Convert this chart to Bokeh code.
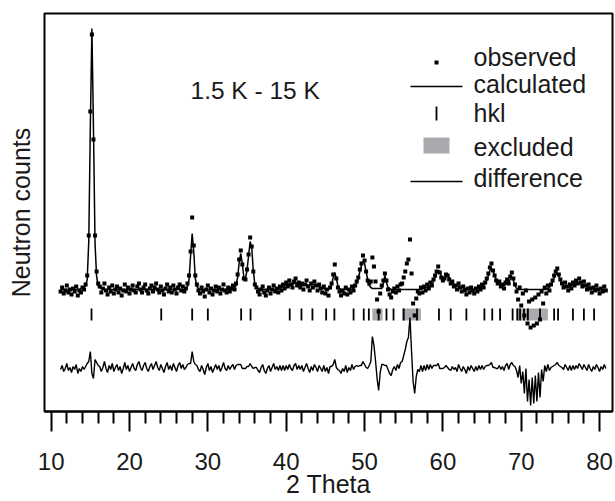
import numpy as np
from bokeh.plotting import figure
from bokeh.models import Range1d, FixedTicker
from bokeh.core.properties import value
from bokeh.embed import file_html
from bokeh.resources import INLINE

# ---------------- data ----------------
theta_start = 11.2
theta_step = 0.2

# observed counts (arbitrary units), one row = 10 points = 2 degrees
observed = [
    120, 124, 118, 121, 126, 119, 122, 117, 123, 120,   # 11.2 - 13.0
    125, 116, 121, 119, 124, 122, 127, 136, 176, 300,   # 13.2 - 15.0
    377, 272, 176, 140, 128, 125, 119, 123, 128, 121,   # 15.2 - 17.0
    117, 124, 120, 126, 118, 122, 125, 119, 123, 116,   # 17.2 - 19.0
    121, 127, 120, 124, 118, 122, 126, 121, 119, 125,   # 19.2 - 21.0
    128, 122, 119, 124, 127, 121, 118, 123, 126, 120,   # 21.2 - 23.0
    124, 128, 122, 119, 125, 121, 117, 123, 127, 120,   # 23.2 - 25.0
    124, 119, 126, 122, 118, 124, 127, 121, 125, 120,   # 25.2 - 27.0
    123, 128, 136, 160, 194, 166, 136, 127, 121, 118,   # 27.2 - 29.0
    124, 120, 115, 122, 126, 119, 123, 117, 121, 125,   # 29.2 - 31.0
    120, 124, 118, 122, 127, 121, 119, 124, 120, 123,   # 31.2 - 33.0
    126, 122, 128, 137, 152, 161, 147, 133, 132, 142,   # 33.2 - 35.0
    157, 174, 165, 140, 127, 124, 120, 117, 122, 125,   # 35.2 - 37.0
    119, 116, 121, 124, 118, 122, 126, 120, 123, 119,   # 37.2 - 39.0
    125, 121, 127, 123, 129, 125, 131, 127, 124, 130,   # 39.2 - 41.0
    133, 126, 129, 124, 128, 122, 127, 131, 125, 121,   # 41.2 - 43.0
    128, 124, 130, 126, 121, 127, 123, 119, 125, 118,   # 43.2 - 45.0
    122, 116, 124, 128, 137, 147, 133, 124, 120, 116,   # 45.2 - 47.0
    121, 118, 124, 117, 122, 119, 125, 121, 126, 130,   # 47.2 - 49.0
    134, 142, 148, 156, 151, 140, 131, 128, 130, 154,   # 49.2 - 51.0
    145, 130, 112, 100, 118, 126, 131, 138, 131, 122,   # 51.2 - 53.0
    117, 114, 120, 123, 119, 125, 121, 127, 128, 134,   # 53.2 - 55.0
    140, 148, 152, 172, 138, 108, 96, 113, 120, 118,    # 55.2 - 57.0
    124, 119, 125, 121, 127, 123, 129, 126, 132, 136,   # 57.2 - 59.0
    140, 145, 139, 134, 131, 133, 137, 136, 132, 128,   # 59.2 - 61.0
    130, 125, 126, 122, 128, 124, 120, 125, 121, 117,   # 61.2 - 63.0
    123, 119, 124, 121, 118, 123, 120, 125, 122, 127,   # 63.2 - 65.0
    124, 129, 133, 138, 144, 148, 141, 136, 131, 128,   # 65.2 - 67.0
    130, 125, 127, 123, 129, 132, 128, 135, 139, 133,   # 67.2 - 69.0
    127, 120, 112, 124, 106, 118, 96, 121, 88, 110,     # 69.2 - 71.0
    84, 112, 86, 114, 88, 117, 92, 120, 108, 124,       # 71.2 - 73.0
    118, 126, 121, 127, 131, 136, 140, 143, 137, 132,   # 73.2 - 75.0
    128, 124, 129, 125, 121, 127, 123, 129, 126, 131,   # 75.2 - 77.0
    128, 133, 129, 125, 130, 126, 122, 127, 123, 119,   # 77.2 - 79.0
    124, 121, 126, 122, 118, 123, 120, 125, 121,        # 79.2 - 80.8
]

# calculated profile, same grid
calculated = [
    122, 122, 122, 122, 122, 122, 122, 122, 122, 122,   # 11.2 - 13.0
    122, 122, 122, 123, 123, 124, 126, 132, 170, 284,   # 13.2 - 15.0
    383, 283, 168, 135, 126, 124, 123, 123, 122, 122,   # 15.2 - 17.0
    122, 122, 122, 122, 122, 122, 122, 122, 122, 122,   # 17.2 - 19.0
    122, 122, 122, 122, 122, 122, 122, 122, 122, 122,   # 19.2 - 21.0
    122, 122, 122, 122, 122, 122, 122, 122, 122, 122,   # 21.2 - 23.0
    122, 122, 122, 122, 122, 122, 122, 122, 122, 122,   # 23.2 - 25.0
    122, 122, 122, 122, 122, 122, 122, 122, 122, 122,   # 25.2 - 27.0
    123, 125, 132, 156, 178, 160, 133, 125, 123, 122,   # 27.2 - 29.0
    122, 122, 122, 122, 122, 122, 122, 122, 122, 122,   # 29.2 - 31.0
    122, 122, 122, 122, 122, 122, 122, 122, 122, 122,   # 31.2 - 33.0
    123, 124, 126, 134, 149, 158, 148, 134, 133, 141,   # 33.2 - 35.0
    156, 170, 164, 141, 127, 124, 123, 122, 122, 122,   # 35.2 - 37.0
    122, 122, 122, 122, 122, 122, 122, 122, 122, 122,   # 37.2 - 39.0
    123, 124, 125, 126, 127, 127, 128, 128, 127, 128,   # 39.2 - 41.0
    129, 128, 127, 126, 126, 126, 127, 127, 126, 126,   # 41.2 - 43.0
    127, 127, 127, 126, 125, 125, 124, 123, 123, 122,   # 43.2 - 45.0
    122, 122, 123, 127, 134, 139, 133, 126, 123, 122,   # 45.2 - 47.0
    122, 122, 122, 122, 122, 122, 122, 123, 125, 128,   # 47.2 - 49.0
    133, 140, 146, 150, 148, 140, 132, 126, 124, 123,   # 49.2 - 51.0
    123, 123, 123, 123, 123, 123, 128, 136, 129, 124,   # 51.2 - 53.0
    123, 122, 122, 122, 122, 122, 122, 122, 122, 122,   # 53.2 - 55.0
    122, 122, 122, 122, 122, 122, 122, 122, 122, 122,   # 55.2 - 57.0
    122, 123, 123, 124, 124, 125, 126, 127, 130, 134,   # 57.2 - 59.0
    138, 141, 140, 135, 132, 133, 135, 136, 134, 131,   # 59.2 - 61.0
    129, 127, 126, 126, 125, 125, 124, 124, 123, 123,   # 61.2 - 63.0
    122, 122, 122, 122, 122, 122, 123, 123, 124, 125,   # 63.2 - 65.0
    126, 128, 131, 136, 141, 143, 141, 136, 132, 129,   # 65.2 - 67.0
    128, 127, 126, 126, 127, 128, 130, 132, 134, 131,   # 67.2 - 69.0
    126, 123, 122, 122, 122, 122, 122, 122, 122, 122,   # 69.2 - 71.0
    122, 122, 122, 122, 122, 122, 122, 122, 122, 122,   # 71.2 - 73.0
    122, 123, 124, 127, 130, 134, 137, 138, 135, 131,   # 73.2 - 75.0
    128, 126, 126, 125, 124, 125, 126, 127, 128, 129,   # 75.2 - 77.0
    129, 129, 128, 127, 127, 126, 125, 124, 124, 123,   # 77.2 - 79.0
    123, 123, 123, 122, 122, 122, 122, 122, 122,        # 79.2 - 80.8
]

hkl_positions = [15.15, 24.05, 28.0, 30.0, 34.25, 35.45, 40.45, 41.95, 43.35,
                 45.1, 46.15, 48.6, 49.9, 50.55, 51.8, 52.8, 53.7, 55.0, 56.7,
                 59.5, 61.0, 63.0, 65.3, 66.3, 67.3, 68.9, 69.5, 69.85, 70.35,
                 70.85, 72.4, 74.2, 74.7, 76.6, 78.0, 79.3]

excluded_start = [51.0, 54.8, 69.4]
excluded_end = [52.3, 57.2, 73.4]

x_major_ticks = [10, 20, 30, 40, 50, 60, 70, 80]
x_minor_ticks = [12, 14, 16, 18, 22, 24, 26, 28, 32, 34, 36, 38, 42, 44, 46, 48,
                 52, 54, 56, 58, 62, 64, 66, 68, 72, 74, 76, 78]

legend_labels = ["observed", "calculated", "hkl", "excluded", "difference"]
temperature_label = "1.5 K - 15 K"
x_title = "2 Theta"
y_title = "Neutron counts"

# ---------------- layout constants ----------------
FONT = "Liberation Sans"
X0, X1 = 9.15, 81.65
Y0, Y1 = 0, 398
FRAME_LEFT, FRAME_TOP, FRAME_W, FRAME_H = 44, 13, 568, 398
DIFF_OFFSET = 44          # vertical offset of difference curve
HKL_LOW, HKL_HIGH = 91, 103
GREY = "#a9a9ae"
TEXT_COLOR = "#1a1a1a"


def sx(px):
    return X0 + (px - FRAME_LEFT) * (X1 - X0) / FRAME_W


def sy(py):
    return Y0 + (FRAME_TOP + FRAME_H - py) * (Y1 - Y0) / FRAME_H


obs = np.array(observed, dtype=float)
calc = np.array(calculated, dtype=float)
theta = theta_start + theta_step * np.arange(len(obs))
difference = obs - calc + DIFF_OFFSET

p = figure(width=615, height=501, x_range=Range1d(X0, X1), y_range=Range1d(Y0, Y1),
           output_backend="svg", toolbar_location=None,
           min_border_left=FRAME_LEFT, min_border_right=615 - FRAME_LEFT - FRAME_W,
           min_border_top=FRAME_TOP, min_border_bottom=501 - FRAME_TOP - FRAME_H)
p.background_fill_color = "white"
p.border_fill_color = "white"
p.outline_line_color = "black"
p.outline_line_width = 2
p.grid.visible = False

# x axis
xa = p.xaxis[0]
xa.ticker = FixedTicker(ticks=x_major_ticks, minor_ticks=x_minor_ticks)
xa.axis_line_width = 2
xa.axis_line_color = "black"
xa.major_tick_in = 0
xa.major_tick_out = 20
xa.minor_tick_in = 0
xa.minor_tick_out = 12
xa.major_tick_line_width = 2
xa.minor_tick_line_width = 2
xa.major_tick_line_color = "black"
xa.minor_tick_line_color = "black"
xa.major_label_text_font = FONT
xa.major_label_text_font_size = "24px"
xa.major_label_text_color = TEXT_COLOR
xa.major_label_standoff = 21
xa.axis_label = x_title
xa.axis_label_text_font = FONT
xa.axis_label_text_font_size = "25px"
xa.axis_label_text_font_style = "normal"
xa.axis_label_text_color = TEXT_COLOR
xa.axis_label_standoff = -3

# y axis: label only
ya = p.yaxis[0]
ya.ticker = FixedTicker(ticks=[])
ya.axis_line_color = None
ya.major_tick_line_color = None
ya.minor_tick_line_color = None
ya.major_tick_out = 0
ya.minor_tick_out = 0
ya.major_tick_in = 0
ya.minor_tick_in = 0
ya.axis_label = y_title
ya.axis_label_text_font = FONT
ya.axis_label_text_font_size = "25px"
ya.axis_label_text_font_style = "normal"
ya.axis_label_text_color = TEXT_COLOR
ya.axis_label_standoff = 10

# excluded regions
p.quad(left=excluded_start, right=excluded_end, bottom=HKL_LOW, top=HKL_HIGH,
       fill_color=GREY, line_color=None)
# hkl ticks
p.segment(x0=hkl_positions, y0=HKL_LOW, x1=hkl_positions, y1=HKL_HIGH,
          line_color="black", line_width=1.8)
# calculated
p.line(theta, calc, line_color="black", line_width=1.5)
# observed
p.scatter(theta, obs, marker="square", size=4, fill_color="black", line_color=None)
# difference
p.line(theta, difference, line_color="black", line_width=1.4)

# temperature label
p.text(x=[sx(190)], y=[sy(90)], text=[temperature_label], text_font=value(FONT),
       text_font_size="24.5px", text_baseline="middle", text_align="left", text_color=TEXT_COLOR)

# legend (drawn manually)
row_y = [56, 83, 112, 146, 177]
p.scatter([sx(436)], [sy(62)], marker="square", size=4, fill_color="black", line_color=None)
p.line([sx(410), sx(462)], [sy(86), sy(86)], line_color="black", line_width=1.5)
p.segment(x0=[sx(436)], y0=[sy(120)], x1=[sx(436)], y1=[sy(106)], line_color="black", line_width=1.8)
p.quad(left=[sx(423)], right=[sx(449)], bottom=[sy(153)], top=[sy(137)], fill_color=GREY, line_color=None)
p.line([sx(410), sx(462)], [sy(181), sy(181)], line_color="black", line_width=1.4)
p.text(x=[sx(473)] * 5, y=[sy(v) for v in row_y], text=legend_labels, text_font=value(FONT),
       text_font_size="25px", text_baseline="middle", text_align="left", text_color=TEXT_COLOR)

open("out.html", "w").write(file_html(p, INLINE))
